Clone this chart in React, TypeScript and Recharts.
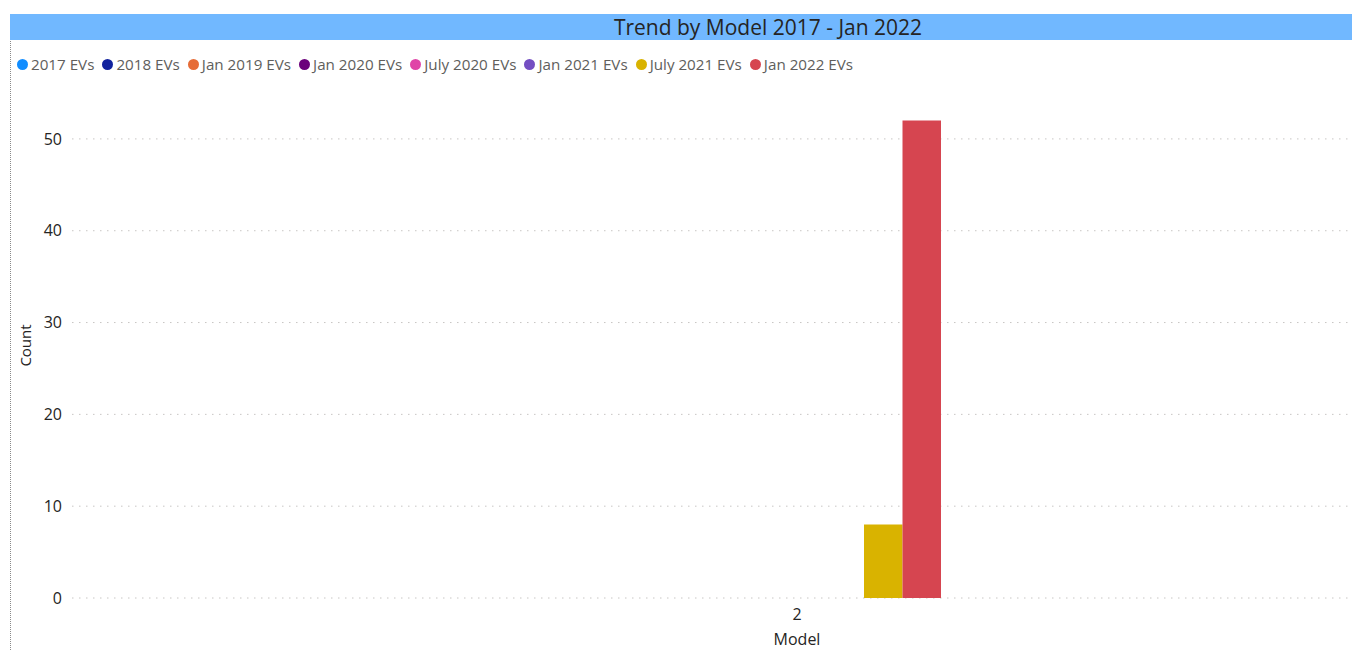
import React from 'react';
import { BarChart, Bar, XAxis, YAxis, CartesianGrid, Label } from 'recharts';

const categories = ['2'];
const seriesNames = ['2017 EVs', '2018 EVs', 'Jan 2019 EVs', 'Jan 2020 EVs', 'July 2020 EVs', 'Jan 2021 EVs', 'July 2021 EVs', 'Jan 2022 EVs'];
const seriesColors = ['#118DFF', '#12239E', '#E66C37', '#6B007B', '#E044A7', '#744EC2', '#D9B300', '#D64550'];
const seriesValues = [
  [0],
  [0],
  [0],
  [0],
  [0],
  [0],
  [8],
  [52],
];
const yTicks = [0, 10, 20, 30, 40, 50];

const data = categories.map((c, i) => {
  const row: any = { model: c };
  seriesNames.forEach((s, j) => {
    row[s] = seriesValues[j][i];
  });
  return row;
});

const FONT = '"Segoe UI", "Open Sans", "Noto Sans", sans-serif';

const XTick = (props: any) => {
  const { x, y, payload } = props;
  return (
    <text x={x + 10} y={y + 16} textAnchor="middle" dominantBaseline="central" fill="#252423" fontSize={16} fontFamily={FONT}>
      {payload.value}
    </text>
  );
};

const ModelLabel = (props: any) => {
  const vb = props.viewBox || {};
  const cx = vb.x + 142 + (vb.width - 142) / 2 + 10;
  const cy = vb.y + vb.height - 11;
  return (
    <text x={cx} y={cy} textAnchor="middle" dominantBaseline="central" fill="#252423" fontSize={16} fontFamily={FONT}>
      Model
    </text>
  );
};

export default function App() {
  return (
    <div style={{ position: 'relative', width: 1352, height: 642, fontFamily: FONT, background: '#fff' }}>
      <div style={{ position: 'absolute', left: 2, top: 6, width: 0, height: 636, borderLeft: '1px dotted #8a8a8a' }} />
      <div
        style={{
          position: 'absolute', left: 2, top: 6, width: 1350, height: 26, background: '#71B8FF',
          color: '#252423', fontSize: 21, fontWeight: 500, lineHeight: '26px', textAlign: 'center', paddingLeft: 166, boxSizing: 'border-box',
        }}
      >
        Trend by Model 2017 - Jan 2022
      </div>
      <div style={{ position: 'absolute', left: 9, top: 46, height: 20, display: 'flex', alignItems: 'center', gap: 8, fontSize: 15.2, color: '#605E5C' }}>
        {seriesNames.map((s, i) => (
          <div key={s} style={{ display: 'flex', alignItems: 'center', gap: 3 }}>
            <span style={{ width: 11, height: 11, borderRadius: 6, background: seriesColors[i], display: 'inline-block' }} />
            <span>{s}</span>
          </div>
        ))}
      </div>
      <div style={{ position: 'absolute', left: 0, top: 0 }}>
        <BarChart width={1352} height={642} data={data} margin={{ top: 85, right: 0, bottom: 0, left: 8 }} barGap={0} barSize={38.5}>
          <CartesianGrid vertical={false} stroke="#C8C6C4" strokeDasharray="1.5 5.5" horizontalValues={yTicks} />
          <XAxis
            dataKey="model"
            height={52}
            padding={{ left: 142, right: 0 }}
            axisLine={false}
            tickLine={false}
            tickSize={0}
            tickMargin={0}
            tick={<XTick />}
          >
            <Label content={<ModelLabel />} />
          </XAxis>
          <YAxis
            width={56}
            domain={[0, 55]}
            ticks={yTicks}
            axisLine={false}
            tickLine={false}
            tickSize={0}
            tickMargin={10}
            tick={{ fill: '#252423', fontSize: 16, fontFamily: FONT }}
          >
            <Label value="Count" angle={-90} position="insideLeft" offset={10} style={{ textAnchor: 'middle' }} fill="#252423" fontSize={15} fontFamily={FONT} />
          </YAxis>
          {seriesNames.map((s, i) => (
            <Bar key={s} dataKey={s} fill={seriesColors[i]} isAnimationActive={false} />
          ))}
        </BarChart>
      </div>
    </div>
  );
}
